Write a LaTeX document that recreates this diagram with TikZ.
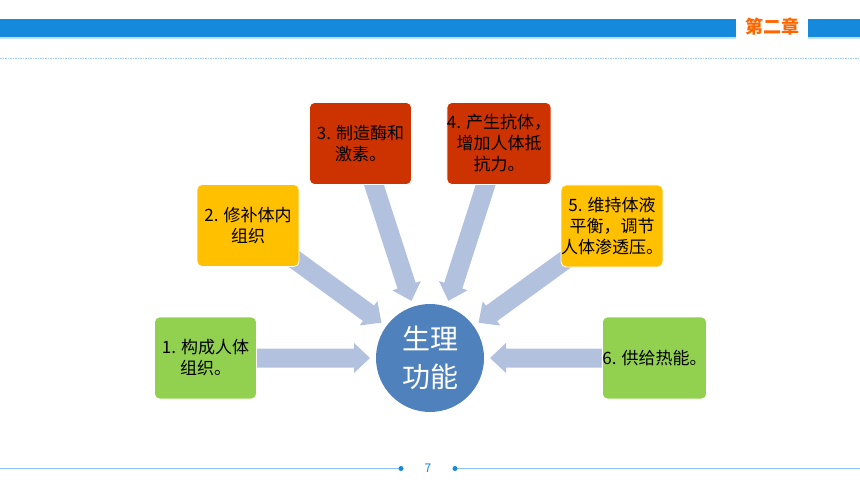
\documentclass[tikz,border=0pt]{standalone}
\usepackage{fontspec}
\setmainfont{Noto Sans CJK SC}
\usetikzlibrary{calc,backgrounds}
\definecolor{barblue}{RGB}{21,137,219}
\definecolor{barlight}{RGB}{190,224,246}
\definecolor{chapterorange}{RGB}{255,102,0}
\definecolor{leafgreen}{RGB}{146,208,80}
\definecolor{leafyellow}{RGB}{255,192,0}
\definecolor{leafred}{RGB}{204,51,0}
\definecolor{hubblue}{RGB}{79,129,189}
\definecolor{arrowfill}{RGB}{178,194,222}
\definecolor{footline}{RGB}{140,196,238}
\definecolor{dotline}{RGB}{160,204,236}
\tikzset{
  leaf/.style={rounded corners=5pt, draw=white, line width=0.8pt,
    minimum width=102pt, minimum height=82pt, inner sep=0pt,
    align=center, font=\fontsize{17}{21}\selectfont},
  hub/.style={circle, fill=hubblue, minimum size=108pt, inner sep=0pt,
    align=center, text=white, font=\fontsize{28}{38}\selectfont},
}
\begin{document}
\begin{tikzpicture}[x=1pt,y=-1pt]
    \useasboundingbox (0,0) rectangle (860,484);
    % header
    \fill[barblue] (0,19) rectangle (736,37);
    \fill[barblue] (808,19) rectangle (860,37);
    \draw[barlight, line width=1.5pt] (0,38) -- (736,38);
    \draw[barlight, line width=1.5pt] (808,38) -- (860,38);
    \node[text=chapterorange, font=\fontsize{18}{18}\selectfont\bfseries] (chapter) at (772,27) {第二章};
    \draw[dotline, line width=1pt, dash pattern=on 1.5pt off 1pt] (0,58.5) -- (860,58.5);
    % hub and leaves
    \node[hub] (func) at (430,358) {生理\\功能};
    \node[leaf, fill=leafgreen] (box1) at (205.5,358) {1. 构成人体\\组织。};
    \node[leaf, fill=leafyellow] (box2) at (248,225.5) {2. 修补体内\\组织};
    \node[leaf, fill=leafred] (box3) at (360.5,143.5) {3. 制造酶和\\激素。};
    \node[leaf, fill=leafred] (box4) at (499,143.5) {4. 产生抗体，\\增加人体抵\\抗力。};
    \node[leaf, fill=leafyellow] (box5) at (612,226) {5. 维持体液\\平衡，调节\\人体渗透压。};
    \node[leaf, fill=leafgreen] (box6) at (654.5,358) {6. 供给热能。};
    % block arrows
    \begin{scope}[on background layer]
    \foreach \b in {box1,box2,box3,box4,box5,box6} {
      \coordinate (tip) at ($(func)!60pt!(\b)$);
      \coordinate (neck) at ($(tip)!16pt!(\b)$);
      \fill[arrowfill] ($(\b)!9.5pt!90:(tip)$) -- ($(neck)!9.5pt!90:(tip)$)
        -- ($(neck)!15pt!90:(tip)$) -- (tip) -- ($(neck)!15pt!-90:(tip)$)
        -- ($(neck)!9.5pt!-90:(tip)$) -- ($(\b)!9.5pt!-90:(tip)$) -- cycle;
    }
    \end{scope}
    % footer
    \coordinate (dotl) at (401,468.5);
    \coordinate (dotr) at (455,468.5);
    \draw[footline, line width=1.2pt] (0,468.5) -- (dotl);
    \draw[footline, line width=1.2pt] (dotr) -- (860,468.5);
    \fill[barblue] (dotl) circle (2.5);
    \fill[barblue] (dotr) circle (2.5);
    \node[text=barblue, font=\fontsize{12}{12}\selectfont] (page) at (428,468) {7};
  \end{tikzpicture}
\end{document}
